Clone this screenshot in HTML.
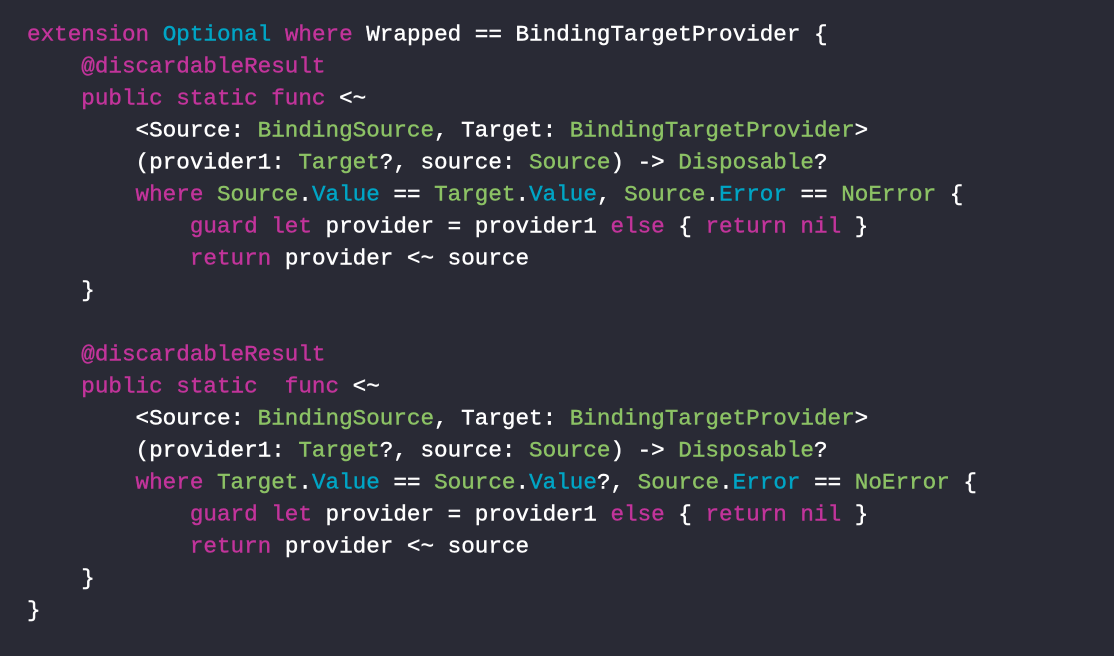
<!DOCTYPE html>
<html><head><meta charset="utf-8"><style>
html,body{margin:0;padding:0;width:1114px;height:656px;overflow:hidden;background:#292a35}
pre{position:absolute;left:27px;top:18px;margin:0;font-family:"Liberation Mono",monospace;font-size:22.62px;line-height:32px;color:#fff;-webkit-text-stroke:.4px}
i{font-style:normal;color:#c2349b}
b{font-weight:normal;color:#8cc265}u{text-decoration:none;color:#00a5c5}
</style></head><body><pre style="transform:translateY(.5px)"><i>extension</i> <u>Optional</u> <i>where</i> Wrapped == BindingTargetProvider {
    <i>@discardableResult</i>
    <i>public static func</i> &lt;~
        &lt;Source: <b>BindingSource</b>, Target: <b>BindingTargetProvider</b>&gt;
        (provider1: <b>Target</b>?, source: <b>Source</b>) -&gt; <b>Disposable</b>?
        <i>where</i> <b>Source</b>.<u>Value</u> == <b>Target</b>.<u>Value</u>, <b>Source</b>.<u>Error</u> == <b>NoError</b> {
            <i>guard let</i> provider = provider1 <i>else</i> { <i>return nil</i> }
            <i>return</i> provider &lt;~ source
    }

    <i>@discardableResult</i>
    <i>public static  func</i> &lt;~
        &lt;Source: <b>BindingSource</b>, Target: <b>BindingTargetProvider</b>&gt;
        (provider1: <b>Target</b>?, source: <b>Source</b>) -&gt; <b>Disposable</b>?
        <i>where</i> <b>Target</b>.<u>Value</u> == <b>Source</b>.<u>Value</u>?, <b>Source</b>.<u>Error</u> == <b>NoError</b> {
            <i>guard let</i> provider = provider1 <i>else</i> { <i>return nil</i> }
            <i>return</i> provider &lt;~ source
    }
}</pre></body></html>
